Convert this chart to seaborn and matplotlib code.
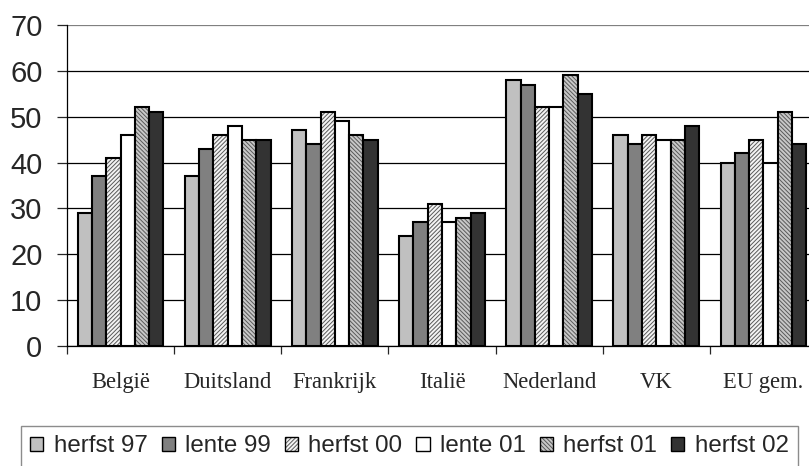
import numpy as np
import pandas as pd
import matplotlib
matplotlib.use("Agg")
import matplotlib.pyplot as plt
import seaborn as sns
from matplotlib.patches import Patch

# data
landen = ["België", "Duitsland", "Frankrijk", "Italië", "Nederland", "VK", "EU gem."]
periodes = ["herfst 97", "lente 99", "herfst 00", "lente 01", "herfst 01", "herfst 02"]
herfst_97 = [29, 37, 47, 24, 58, 46, 40]
lente_99 = [37, 43, 44, 27, 57, 44, 42]
herfst_00 = [41, 46, 51, 31, 52, 46, 45]
lente_01 = [46, 48, 49, 27, 52, 45, 40]
herfst_01 = [52, 45, 46, 28, 59, 45, 51]
herfst_02 = [51, 45, 45, 29, 55, 48, 44]

series = [herfst_97, lente_99, herfst_00, lente_01, herfst_01, herfst_02]
df = pd.DataFrame({
    "land": np.tile(landen, len(periodes)),
    "periode": np.repeat(periodes, len(landen)),
    "waarde": np.concatenate(series),
})

kleuren = ["#c0c0c0", "#808080", "#f4f4f4", "#ffffff", "#c8c8c8", "#333333"]
hatches = [None, None, "////////", None, "\\\\\\\\\\\\\\\\", None]
hatch_kleur = (0.35, 0.35, 0.35, 1.0)

sns.set_style("white")
plt.rcParams["hatch.linewidth"] = 0.7

fig = plt.figure(figsize=(8.09, 4.66), dpi=100)
ax = fig.add_axes([0.0828, 0.2575, 0.927, 0.689])

sns.barplot(data=df, x="land", y="waarde", hue="periode", order=landen,
            hue_order=periodes, palette=kleuren, width=0.8, dodge=True,
            edgecolor="black", linewidth=1.5, saturation=1, legend=False, ax=ax)

for i, cont in enumerate(ax.containers):
    for bar in cont:
        if hatches[i]:
            bar.set_hatch(hatches[i])
            bar._hatch_color = hatch_kleur

ax.set_ylim(0, 70)
ax.set_xlim(-0.5, len(landen) - 0.5)
ax.set_yticks(range(0, 71, 10))
ax.yaxis.grid(True, color="black", linewidth=0.9)
ax.get_ygridlines()[-1].set_color("#808080")
ax.set_axisbelow(True)
for s in ["top", "right"]:
    ax.spines[s].set_visible(False)
for s in ["left", "bottom"]:
    ax.spines[s].set_color("black")
    ax.spines[s].set_linewidth(0.9)

ax.set_xlabel("")
ax.set_ylabel("")
ax.tick_params(axis="y", labelsize=21, length=7.2, width=0.9, direction="out", left=True, pad=10.5)
for lab in ax.get_yticklabels():
    lab.set_family("Liberation Sans")

ax.set_xticks(np.arange(len(landen)))
ax.set_xticklabels(landen, family="Liberation Serif", fontsize=16.3)
ax.tick_params(axis="x", which="major", length=0, pad=19)
ax.set_xticks(np.arange(len(landen) + 1) - 0.5, minor=True)
ax.tick_params(axis="x", which="minor", length=5.8, width=0.9, direction="out", bottom=True)

handles = []
for i in range(len(periodes)):
    p = Patch(facecolor=kleuren[i], edgecolor="black", hatch=hatches[i], linewidth=1.0)
    handles.append(p)
leg = fig.legend(handles, periodes, loc="upper left",
                 bbox_to_anchor=(0.0256, -0.2, 0.9608, 0.2858), borderaxespad=0,
                 mode="expand", ncol=6, frameon=True, fancybox=False,
                 handlelength=0.55, handleheight=0.55, handletextpad=0.42,
                 columnspacing=0.5, borderpad=0.39,
                 prop={"family": "Liberation Sans", "size": 17.4})
leg.get_frame().set_edgecolor("#707070")
leg.get_frame().set_linewidth(1.0)
for i, h in enumerate(leg.legend_handles):
    if hatches[i]:
        h._hatch_color = hatch_kleur

fig.savefig("out.png", dpi=100)
